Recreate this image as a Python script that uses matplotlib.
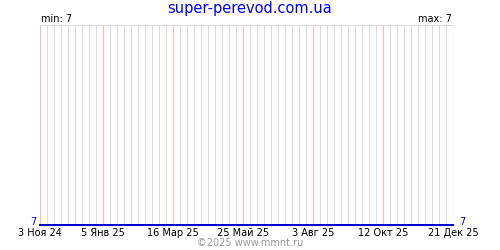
import pandas as pd
import matplotlib.pyplot as plt
import matplotlib.dates as mdates

# данные
dates = pd.to_datetime(['2024-11-03', '2025-12-21'])
values = [7, 7]

tick_dates = pd.to_datetime(['2024-11-03', '2025-01-05', '2025-03-16', '2025-05-25',
                             '2025-08-03', '2025-10-12', '2025-12-21'])
tick_labels = ['3 Ноя 24', '5 Янв 25', '16 Мар 25', '25 Май 25',
               '3 Авг 25', '12 Окт 25', '21 Дек 25']

v_min, v_max = min(values), max(values)

fig = plt.figure(figsize=(5, 2.5), dpi=100)
ax = fig.add_axes([40/500, 25/250, 413/500, 200/250])

ax.set_xlim(dates[0], dates[-1])
ax.set_ylim(v_min, v_min + 1)

# недельная сетка, 1 px = 0.72 pt
px = 0.72
ax.xaxis.set_minor_locator(mdates.WeekdayLocator(byweekday=mdates.SU))
ax.set_xticks(tick_dates)
ax.set_xticklabels(tick_labels)
ax.grid(True, which='minor', axis='x', color='#dcdcdc', lw=px, snap=True)
for d in tick_dates:
    ax.axvline(d, color='#ffbcbc', lw=px * 1.2, snap=True, zorder=2.5)

ax.plot(dates, values, color='#0000cc', lw=2 * px, zorder=3, clip_on=False,
        snap=True)

for s in ['left', 'right', 'bottom']:
    ax.spines[s].set_visible(False)
ax.spines['top'].set_color('#dcdcdc')
ax.spines['top'].set_linewidth(px)
ax.spines['top'].set_snap(True)
ax.set_yticks([])
ax.tick_params(axis='x', which='both', length=0, labelsize=7, pad=2)

fig.text(0.5, 1 - 8/250, 'super-perevod.com.ua', color='#0000ff', fontsize=10.5,
         ha='center', va='center')
fig.text(41/500, 1 - 19/250, 'min: %d' % v_min, fontsize=7, ha='left', va='center')
fig.text(452/500, 1 - 19/250, 'max: %d' % v_max, fontsize=7, ha='right', va='center')
fig.text(36/500, 1 - 222/250, str(values[0]), color='#0000cc', fontsize=7,
         ha='right', va='center')
fig.text(459/500, 1 - 222/250, str(values[-1]), color='#0000cc', fontsize=7,
         ha='left', va='center')
fig.text(0.5, 1 - 243/250, '©2025 www.mmnt.ru', color='#999999', fontsize=7,
         ha='center', va='center')

plt.savefig('out.png', dpi=100)
